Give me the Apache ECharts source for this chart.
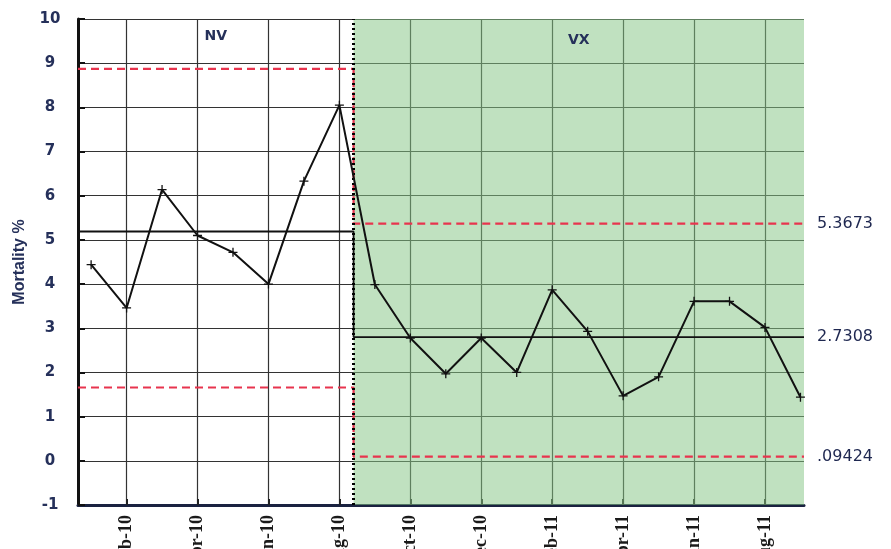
<!DOCTYPE html>
<html>
<head>
<meta charset="utf-8">
<title>Mortality control chart</title>
<script src="https://cdn.jsdelivr.net/npm/echarts@6/dist/echarts.min.js"></script>
<style>
	html, body { margin: 0; padding: 0; background: #fff; }
	#chart { width: 891px; height: 549px; }
</style>
</head>
<body>
<div id="chart"></div>
<script>
// monthly categories (x index = position in this list)
const months = ['Jan-10', 'Feb-10', 'Mar-10', 'Apr-10', 'May-10', 'Jun-10', 'Jul-10', 'Aug-10',
	'Sep-10', 'Oct-10', 'Nov-10', 'Dec-10', 'Jan-11', 'Feb-11', 'Mar-11', 'Apr-11',
	'May-11', 'Jun-11', 'Jul-11', 'Aug-11', 'Sep-11'];
const mortality = [4.44, 3.46, 6.14, 5.10, 4.72, 4.00, 6.33, 8.05,
	3.99, 2.78, 1.97, 2.78, 2.00, 3.87, 2.93, 1.47, 1.90, 3.61, 3.61, 3.02, 1.44];
// labelled months (every other one)
const labelledMonths = [1, 3, 5, 7, 9, 11, 13, 15, 17, 19];

// phases and their control limits [NV, VX]
const phases = ['NV', 'VX'];
const phaseSplit = 7.4;
const upperLimit = [8.87, 5.3673];
const centreLine = [5.19, 2.80];
const lowerLimit = [1.66, 0.09424];
const limitLabels = ['5.3673', '2.7308', '.09424'];

const xMin = -0.37, xMax = 20.1;
const yMin = -1, yMax = 10;

const navy = '#25305a';
const red = '#e8344e';

function stepData(vals) {
	return [[xMin, vals[0]], [phaseSplit, vals[0]], [phaseSplit, vals[1]], [xMax, vals[1]]];
}

function limitSeries(vals, color, type, label) {
	return {
		type: 'line',
		data: stepData(vals),
		symbol: 'none',
		silent: true,
		z: 3,
		lineStyle: { color: color, width: type === 'solid' ? 1.8 : 2.2, type: type },
		endLabel: {
			show: true,
			formatter: label,
			distance: 13,
			color: '#1e2750',
			fontFamily: 'DejaVu Sans',
			fontSize: 16
		}
	};
}

const chart = echarts.init(document.getElementById('chart'));

chart.setOption({
	animation: false,
	grid: { left: 78, right: 87, top: 19, bottom: 44, containLabel: false, outerBoundsMode: 'none' },
	xAxis: {
		type: 'value',
		min: xMin,
		max: xMax,
		axisLine: { show: true, onZero: false, lineStyle: { color: '#1a2240', width: 3 } },
		axisTick: { show: true, customValues: labelledMonths, inside: true, length: 6, lineStyle: { color: '#222', width: 2 } },
		axisLabel: {
			customValues: labelledMonths,
			formatter: v => months[v],
			rotate: 90,
			margin: 10,
			color: '#1a1a1a',
			fontFamily: 'Liberation Serif',
			fontWeight: 'bold',
			fontSize: 18
		},
		splitLine: { show: true, lineStyle: { color: '#333', width: 1.2 } }
	},
	yAxis: {
		type: 'value',
		min: yMin,
		max: yMax,
		interval: 1,
		name: 'Mortality %',
		nameLocation: 'middle',
		nameGap: 50,
		nameTextStyle: { color: navy, fontFamily: 'Liberation Sans', fontWeight: 'bold', fontSize: 16 },
		axisLine: { show: true, onZero: false, lineStyle: { color: '#111', width: 3 } },
		axisTick: { show: true, inside: true, length: 7, lineStyle: { color: '#111', width: 2 } },
		axisLabel: { color: navy, fontFamily: 'DejaVu Sans', fontWeight: 'bold', fontSize: 15, margin: 28, align: 'center' },
		splitLine: { show: true, lineStyle: { color: '#333', width: 1.2 } }
	},
	series: [
		{
			// phase shading and names
			type: 'line',
			data: [],
			z: 1,
			silent: true,
			markArea: {
				silent: true,
				data: [
					[{ xAxis: xMin, yAxis: yMax, itemStyle: { color: 'rgba(0,0,0,0)' },
						label: { show: true, formatter: phases[0], position: 'insideTop', distance: 10 } },
					 { xAxis: phaseSplit, yAxis: yMin }],
					[{ xAxis: phaseSplit, yAxis: yMax, itemStyle: { color: 'rgba(135,198,135,0.52)' },
						label: { show: true, formatter: phases[1], position: 'insideTop', distance: 14 } },
					 { xAxis: xMax, yAxis: yMin }]
				],
				label: { color: navy, fontFamily: 'DejaVu Sans', fontWeight: 'bold', fontSize: 14 }
			}
		},
		limitSeries(upperLimit, red, [8, 5], limitLabels[0]),
		limitSeries(centreLine, '#111', 'solid', limitLabels[1]),
		limitSeries(lowerLimit, red, [8, 5], limitLabels[2]),
		{
			// phase change marker
			type: 'line',
			data: [],
			z: 4,
			silent: true,
			markLine: {
				silent: true,
				symbol: 'none',
				label: { show: false },
				lineStyle: { color: '#000', width: 3, type: [2, 3] },
				data: [{ xAxis: phaseSplit }]
			}
		},
		{
			type: 'line',
			data: mortality.map((v, i) => [i, v]),
			z: 5,
			symbol: 'path://M5,0L5,10M0,5L10,5',
			symbolSize: 9,
			itemStyle: { color: '#111', borderColor: '#111', borderWidth: 1.3 },
			lineStyle: { color: '#111', width: 2 }
		}
	]
});
</script>
</body>
</html>
